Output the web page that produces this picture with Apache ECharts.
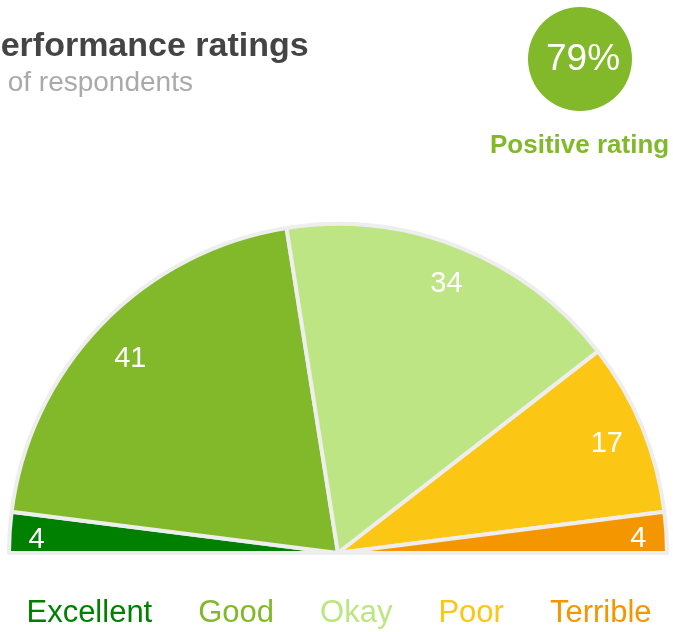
<!DOCTYPE html>
<html>
<head>
<meta charset="utf-8">
<script src="https://cdn.jsdelivr.net/npm/echarts@6/dist/echarts.min.js"></script>
<style>
	html, body { margin: 0; padding: 0; background: #fff; }
	#chart { width: 673px; height: 632px; }
</style>
</head>
<body>
<div id="chart"></div>
<script>
// ratings, share of respondents (%)
var ratingNames = ['Excellent', 'Good', 'Okay', 'Poor', 'Terrible']
var ratingValues = [4, 41, 34, 17, 4]
var ratingColors = ['#008000', '#82b92a', '#bee584', '#fcc614', '#f39600']
var positiveRating = 79

var FONT = '"Liberation Sans", Arial, sans-serif'

var chart = echarts.init(document.getElementById('chart'))

var pieData = ratingNames.map(function (name, i) {
	return {
		name: name,
		value: ratingValues[i],
		itemStyle: { color: ratingColors[i] },
	}
})

// label nudges so they sit like in the original
var labelOffsets = {
	Excellent: [-10, 5],
	Good: [2, 9],
	Okay: [1, 2],
	Poor: [-1, 3],
	Terrible: [9, 4],
}

var labelData = ratingNames.map(function (name, i) {
	return {
		name: name,
		value: ratingValues[i],
		label: { offset: labelOffsets[name] },
	}
})

var option = {
	animation: false,
	title: [
		{
			text: 'Performance ratings',
			left: -27,
			top: 25,
			textStyle: { fontFamily: FONT, fontSize: 34, fontWeight: 'bold', color: '#444' },
		},
		{
			text: '% of respondents',
			left: -30,
			top: 64,
			textStyle: { fontFamily: FONT, fontSize: 28, fontWeight: 'normal', color: '#aaa' },
		},
		{
			text: 'Positive rating',
			left: 485,
			top: 128,
			textStyle: { fontFamily: FONT, fontSize: 26, fontWeight: 'bold', color: '#82b92a' },
		},
	],
	graphic: [
		{
			type: 'circle',
			shape: { cx: 580, cy: 59, r: 52 },
			style: { fill: '#82b92a' },
		},
		{
			type: 'text',
			x: 583,
			y: 60,
			style: {
				text: positiveRating + '%',
				fill: '#fff',
				font: '37px ' + FONT,
				align: 'center',
				verticalAlign: 'middle',
			},
		},
	],
	legend: {
		bottom: -2,
		left: 'center',
		icon: 'none',
		itemWidth: 0,
		itemHeight: 0,
		itemGap: 41,
		data: ratingNames.map(function (name, i) {
			return { name: name, textStyle: { color: ratingColors[i] } }
		}),
		textStyle: { fontFamily: FONT, fontSize: 31 },
		selectedMode: false,
	},
	series: [
		{
			type: 'pie',
			center: [338, 553],
			radius: [0, 329],
			startAngle: 180,
			endAngle: 0,
			clockwise: true,
			silent: true,
			itemStyle: { borderColor: '#eeeeee', borderWidth: 4 },
			label: { show: false },
			labelLine: { show: false },
			data: pieData,
		},
		{
			type: 'pie',
			center: [338, 553],
			radius: [249, 329],
			startAngle: 180,
			endAngle: 0,
			clockwise: true,
			silent: true,
			itemStyle: { color: 'rgba(0,0,0,0)' },
			label: {
				show: true,
				position: 'inside',
				formatter: '{c}',
				color: '#fff',
				fontFamily: FONT,
				fontSize: 29,
				textBorderWidth: 0,
			},
			labelLine: { show: false },
			data: labelData,
		},
	],
}

chart.setOption(option)
</script>
</body>
</html>
